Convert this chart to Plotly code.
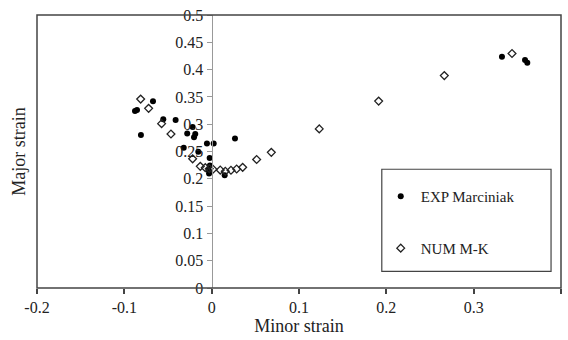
import plotly.graph_objects as go

# EXP Marciniak (filled circles)
exp_minor = [-0.0878, -0.0855, -0.0672, -0.081, -0.0554, -0.0413, -0.0218, -0.028,
             -0.0188, -0.0202, -0.032, -0.0153, -0.0054, 0.0023, -0.0023, -0.002,
             -0.003, -0.0035, 0.0149, 0.0267, 0.3324, 0.3588, 0.3614]
exp_major = [0.324, 0.326, 0.342, 0.280, 0.309, 0.3075, 0.295, 0.283,
             0.282, 0.276, 0.257, 0.2496, 0.2645, 0.2645, 0.238, 0.2245,
             0.2097, 0.216, 0.2066, 0.274, 0.4235, 0.4176, 0.4127]

# NUM M-K (open diamonds)
num_minor = [-0.0813, -0.0722, -0.0573, -0.0466, -0.0218, -0.013, -0.0073, -0.0027,
             0.0015, 0.0098, 0.0156, 0.0221, 0.0286, 0.0355, 0.0515, 0.0683,
             0.1232, 0.1912, 0.2664, 0.3439]
num_major = [0.346, 0.329, 0.301, 0.282, 0.2366, 0.2228, 0.2204, 0.2186,
             0.2174, 0.216, 0.2138, 0.2156, 0.218, 0.221, 0.2353, 0.2484,
             0.2914, 0.3423, 0.389, 0.4294]

x_tickvals = [-0.2, -0.1, 0, 0.1, 0.2, 0.3, 0.4]
x_ticktext = ["-0.2", "-0.1", "0", "0.1", "0.2", "0.3", "0.4"]
y_tickvals = [0, 0.05, 0.1, 0.15, 0.2, 0.25, 0.3, 0.35, 0.4, 0.45, 0.5]
y_ticktext = ["0", "0.05", "0.1", "0.15", "0.2", "0.25", "0.3", "0.35", "0.4", "0.45", "0.5"]

FONT = "Liberation Serif"

fig = go.Figure()
fig.add_trace(go.Scatter(
    x=exp_minor, y=exp_major, mode="markers", name="EXP Marciniak",
    marker=dict(symbol="circle", size=6, color="black"),
    legend="legend", cliponaxis=False))
fig.add_trace(go.Scatter(
    x=num_minor, y=num_major, mode="markers", name="NUM M-K",
    marker=dict(symbol="diamond-open", size=6, color="#222222", line=dict(width=1.3, color="#222222")),
    legend="legend2", cliponaxis=False))

fig.update_layout(
    width=568, height=340,
    margin=dict(l=37, r=7, t=12, b=49),
    paper_bgcolor="white", plot_bgcolor="white",
    font=dict(family=FONT, size=16, color="#222222"),
    showlegend=True,
    xaxis=dict(range=[-0.2, 0.4], tickvals=x_tickvals, ticktext=x_ticktext,
               showgrid=False, zeroline=False, showline=False,
               ticks="outside", ticklen=5, tickcolor="#444444", tickwidth=1.5,
               title=dict(text="Minor strain", font=dict(size=18, family=FONT), standoff=4),
               tickfont=dict(size=16, family=FONT)),
    yaxis=dict(range=[0, 0.5], tickvals=y_tickvals, ticktext=y_ticktext,
               showgrid=False, zeroline=False, showline=True, linecolor="#999999", linewidth=1.2,
               anchor="free", position=1/3,
               ticks="outside", ticklen=5, tickcolor="#999999", tickwidth=1.2,
               tickfont=dict(size=16, family=FONT)),
    legend=dict(x=0.656, y=0.335, xanchor="left", yanchor="middle",
                bgcolor="rgba(0,0,0,0)", borderwidth=0, itemwidth=30,
                font=dict(size=15, family=FONT)),
    legend2=dict(x=0.656, y=0.145, xanchor="left", yanchor="middle",
                 bgcolor="rgba(0,0,0,0)", borderwidth=0, itemwidth=30,
                 font=dict(size=15, family=FONT)),
    shapes=[
        dict(type="rect", xref="paper", yref="paper", x0=0, x1=1, y0=0, y1=1,
             line=dict(color="#444444", width=1.5)),
        dict(type="rect", xref="paper", yref="paper", x0=0.658, x1=0.981, y0=0.061, y1=0.435,
             line=dict(color="#444444", width=1.2)),
    ],
    annotations=[
        dict(text="Major strain", xref="paper", yref="paper", x=-0.036, y=0.5,
             textangle=-90, showarrow=False, xanchor="center", yanchor="middle",
             font=dict(size=18, family=FONT, color="#222222")),
    ],
)

fig.write_html("out.html")
